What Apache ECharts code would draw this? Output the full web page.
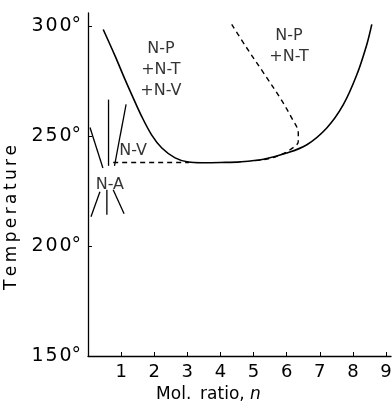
<!DOCTYPE html>
<html lang="en">
<head>
    <meta charset="UTF-8">
    <title>Phase diagram</title>
</head>
<body style="margin:0;background:#fff;">
<div id="chart" style="width:392px;height:404px;"></div>
<script src="https://cdn.jsdelivr.net/npm/echarts@6/dist/echarts.min.js"></script>
<script type="text/javascript">
    // boundary curves (mol. ratio n, temperature)
    const solidN = [0.46, 0.82, 1.12, 1.32, 1.62, 1.92, 2.23, 2.63, 3.03, 3.43, 4.0, 4.6, 5.3, 6.0, 6.61, 7.21, 7.71, 8.12, 8.42, 8.57];
    const solidT = [298.5, 286.4, 275.7, 268.9, 259.0, 250.6, 244.6, 240.1, 238.2, 237.9, 238.0, 238.3, 239.5, 242.3, 246.1, 253.7, 264.3, 278.0, 291.7, 300.8];

    const dashN = [4.34, 4.79, 5.30, 5.80, 6.15, 6.35, 6.35, 6.10, 5.70, 5.30, 5.0];
    const dashT = [300.8, 290.2, 278.8, 267.4, 258.3, 251.5, 247.6, 243.8, 240.8, 239.3, 238.8];

    const flatN = [0.76, 3.05];
    const flatT = [238, 238];

    // short strokes around the N-A point: [n1, t1, n2, t2]
    const starLines = [
        [0.62, 266.6, 0.62, 236.5],
        [0.06, 253.9, 0.45, 235.5],
        [1.15, 264.4, 0.8, 236.5],
        [0.36, 224.7, 0.09, 213.3],
        [0.57, 225.6, 0.57, 214.2],
        [0.76, 225.6, 1.09, 214.7]
    ];

    const regionNames = ['N-P\n+N-T\n+N-V', 'N-P\n+N-T', 'N-V', 'N-A'];
    const regionN = [2.2, 6.07, 1.36, 0.66];
    const regionT = [280, 291, 243.5, 228];

    const xTicks = [1, 2, 3, 4, 5, 6, 7, 8, 9];
    const yTicks = [150, 200, 250, 300];

    const font = 'DejaVu Sans';
    const chart = echarts.init(document.getElementById('chart'));

    const zip = (a, b) => a.map((v, i) => [v, b[i]]);
    const lineStyleSolid = {color: '#000', width: 1.6};
    const lineStyleDash = {color: '#000', width: 1.4, type: [5, 4]};

    const series = [
        {type: 'line', data: zip(solidN, solidT), smooth: 0.35, symbol: 'none', lineStyle: lineStyleSolid},
        {type: 'line', data: zip(dashN, dashT), smooth: 0.35, symbol: 'none', lineStyle: lineStyleDash},
        {type: 'line', data: zip(flatN, flatT), symbol: 'none', lineStyle: lineStyleDash}
    ];
    starLines.forEach(s => {
        series.push({
            type: 'line', data: [[s[0], s[1]], [s[2], s[3]]], symbol: 'none', clip: false,
            lineStyle: {color: '#000', width: 1.3}
        });
    });
    series.push({
        type: 'scatter',
        symbolSize: 0,
        data: regionNames.map((name, i) => ({name: name, value: [regionN[i], regionT[i]]})),
        label: {
            show: true, position: 'inside', formatter: p => p.name,
            fontFamily: font, fontSize: 16, color: '#000', lineHeight: 21, align: 'center'
        }
    });

    chart.setOption({
        animation: false,
        backgroundColor: '#fff',
        grid: {left: 88, right: 1, top: 13, bottom: 48, outerBoundsMode: 'none'},
        xAxis: {
            type: 'value', min: 0, max: 9.15, interval: 1,
            name: 'Mol.\u2009 ratio, {i|n}',
            nameLocation: 'middle', nameGap: 30,
            nameTextStyle: {
                fontFamily: font, fontSize: 17, color: '#000', padding: [0, 62, 0, 0],
                rich: {i: {fontFamily: font, fontSize: 17, fontStyle: 'italic', color: '#000'}}
            },
            splitLine: {show: false},
            axisLine: {lineStyle: {color: '#000', width: 1.3}},
            axisTick: {inside: true, length: 4, customValues: xTicks, lineStyle: {color: '#000'}},
            axisLabel: {customValues: xTicks, fontFamily: font, fontSize: 18, color: '#000', margin: 7}
        },
        yAxis: {
            type: 'value', min: 150, max: 306, interval: 50,
            name: 'T\u2009e\u2009m\u2009p\u2009e\u2009r\u2009a\u2009t\u2009u\u2009r\u2009e',
            nameLocation: 'middle', nameRotate: 90, nameGap: 64,
            nameTextStyle: {fontFamily: font, fontSize: 17, color: '#000', padding: [0, 66, 0, 0]},
            splitLine: {show: false},
            axisLine: {lineStyle: {color: '#000', width: 1.3}},
            axisTick: {inside: true, length: 4, customValues: yTicks, lineStyle: {color: '#000'}},
            axisLabel: {
                customValues: yTicks, formatter: v => String(v).split('').join('\u200a') + '°',
                fontFamily: font, fontSize: 19, color: '#000', margin: 7
            }
        },
        series: series
    });
</script>
</body>
</html>
